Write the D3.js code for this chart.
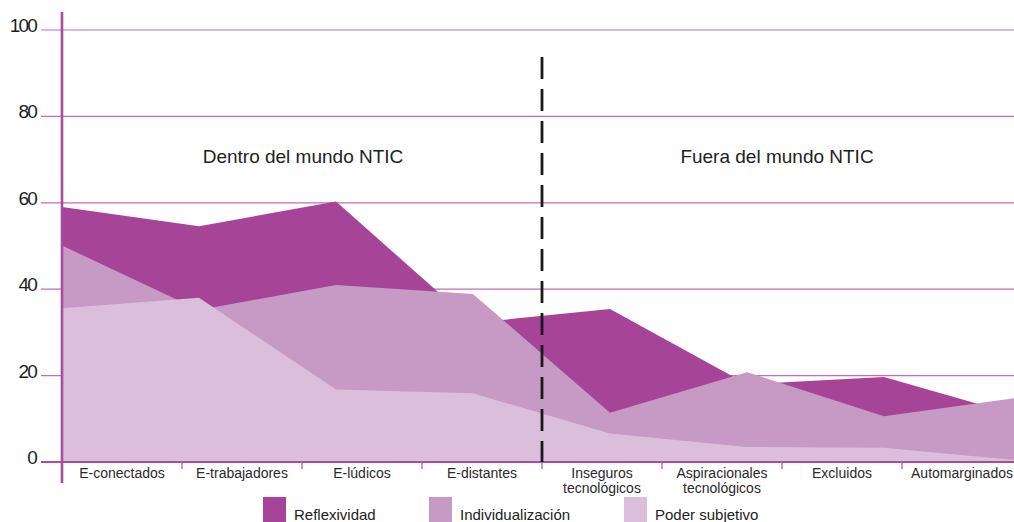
<!DOCTYPE html>
<html>
<head>
<meta charset="utf-8">
<script src="https://cdn.jsdelivr.net/npm/d3@7"></script>
<style>
  body { margin: 0; background: #fff; }
  svg { display: block; font-family: "Liberation Sans", Arial, sans-serif; }
</style>
</head>
<body>
<div id="container"></div>
<script>
// categories along the bottom
const categories = [
  "E-conectados", "E-trabajadores", "E-lúdicos", "E-distantes",
  "Inseguros\ntecnológicos", "Aspiracionales\ntecnológicos", "Excluidos", "Automarginados"
];
const yTicks = [0, 20, 40, 60, 80, 100];

// series values
const reflexividad     = [59.0, 54.6, 60.3, 32.2, 35.4, 18.0, 19.7, 10.6];
const individualizacion = [50.1, 35.2, 41.0, 38.9, 11.4, 20.8, 10.6, 15.0];
const poderSubjetivo   = [35.6, 38.0, 16.8, 15.9, 6.6, 3.5, 3.3, 0.3];

const seriesNames = ["Reflexividad", "Individualización", "Poder subjetivo"];
const seriesValues = [reflexividad, individualizacion, poderSubjetivo];
const colors = ["#a64598", "#c799c5", "#dbbedb"];

const width = 1014, height = 522;
const plot = { left: 62, right: 1022, top: 30, bottom: 462 };

const svg = d3.select("#container").append("svg")
  .attr("width", width)
  .attr("height", height);

const y = d3.scaleLinear().domain([0, 100]).range([plot.bottom, plot.top]);
const xPoint = d3.scalePoint().domain(categories).range([plot.left, plot.right - 1]);
const xBand = d3.scaleBand().domain(categories).range([plot.left, plot.right]);

// gridlines
svg.append("g")
  .selectAll("line")
  .data(yTicks.filter(d => d > 0))
  .enter()
  .append("line")
  .attr("x1", 41)
  .attr("x2", width)
  .attr("y1", d => y(d))
  .attr("y2", d => y(d))
  .style("stroke", "#c46bbd")
  .style("stroke-width", 1.2);

// areas, each from zero, drawn back to front
const area = d3.area()
  .x((d, i) => xPoint(categories[i]))
  .y0(y(0))
  .y1(d => y(d));

svg.append("g")
  .selectAll("path")
  .data(seriesValues)
  .enter()
  .append("path")
  .attr("d", d => area(d))
  .style("fill", (d, i) => colors[i]);

// baseline
svg.append("line")
  .attr("x1", 41).attr("x2", width)
  .attr("y1", y(0)).attr("y2", y(0))
  .style("stroke", "#a94ca0")
  .style("stroke-width", 2.2);

// category boundary ticks
svg.append("g")
  .selectAll("line")
  .data(categories.slice(1))
  .enter()
  .append("line")
  .attr("x1", d => xBand(d))
  .attr("x2", d => xBand(d))
  .attr("y1", y(0))
  .attr("y2", y(0) + 7)
  .style("stroke", "#b25eaa")
  .style("stroke-width", 1.3);

// left axis line
svg.append("line")
  .attr("x1", plot.left).attr("x2", plot.left)
  .attr("y1", 12).attr("y2", 483)
  .style("stroke", "#a94ca0")
  .style("stroke-width", 2.6);

// y tick labels
svg.append("g")
  .selectAll("text")
  .data(yTicks)
  .enter()
  .append("text")
  .attr("x", 36)
  .attr("y", d => y(d) - 3)
  .attr("text-anchor", "end")
  .attr("dominant-baseline", "middle")
  .style("font-size", "19px")
  .style("letter-spacing", "-1.8px")
  .style("fill", "#1e1e1e")
  .text(d => d);

// category labels
const labels = svg.append("g")
  .selectAll("text")
  .data(categories)
  .enter()
  .append("text")
  .attr("text-anchor", "middle")
  .style("font-size", "14px")
  .style("fill", "#2a2a2a");

labels.each(function (d) {
  const lines = d.split("\n");
  const cx = xBand(d) + xBand.bandwidth() / 2;
  d3.select(this).selectAll("tspan")
    .data(lines)
    .enter()
    .append("tspan")
    .attr("x", cx)
    .attr("y", (l, i) => 477.5 + i * 15)
    .text(l => l);
});

// divider between the two groups
svg.append("line")
  .attr("x1", xBand(categories[4]))
  .attr("x2", xBand(categories[4]))
  .attr("y1", 57)
  .attr("y2", y(0))
  .style("stroke", "#1a1a1a")
  .style("stroke-width", 2.8)
  .style("stroke-dasharray", "22,10");

// group annotations
svg.append("text")
  .attr("x", (xBand(categories[0]) + xBand(categories[4])) / 2 + 1)
  .attr("y", 163)
  .attr("text-anchor", "middle")
  .style("font-size", "19px")
  .style("fill", "#222")
  .text("Dentro del mundo NTIC");

svg.append("text")
  .attr("x", (xBand(categories[4]) + plot.right) / 2 - 5)
  .attr("y", 163)
  .attr("text-anchor", "middle")
  .style("font-size", "19px")
  .style("fill", "#222")
  .text("Fuera del mundo NTIC");

// legend
const legendX = [263, 429, 624];
const legend = svg.append("g")
  .selectAll("g")
  .data(seriesNames)
  .enter()
  .append("g")
  .attr("transform", (d, i) => `translate(${legendX[i]} 497)`);

legend.append("rect")
  .attr("width", 23)
  .attr("height", 26)
  .style("fill", (d, i) => colors[i]);

legend.append("text")
  .attr("x", 31)
  .attr("y", 23)
  .style("font-size", "15px")
  .style("fill", "#222")
  .text(d => d);
</script>
</body>
</html>
